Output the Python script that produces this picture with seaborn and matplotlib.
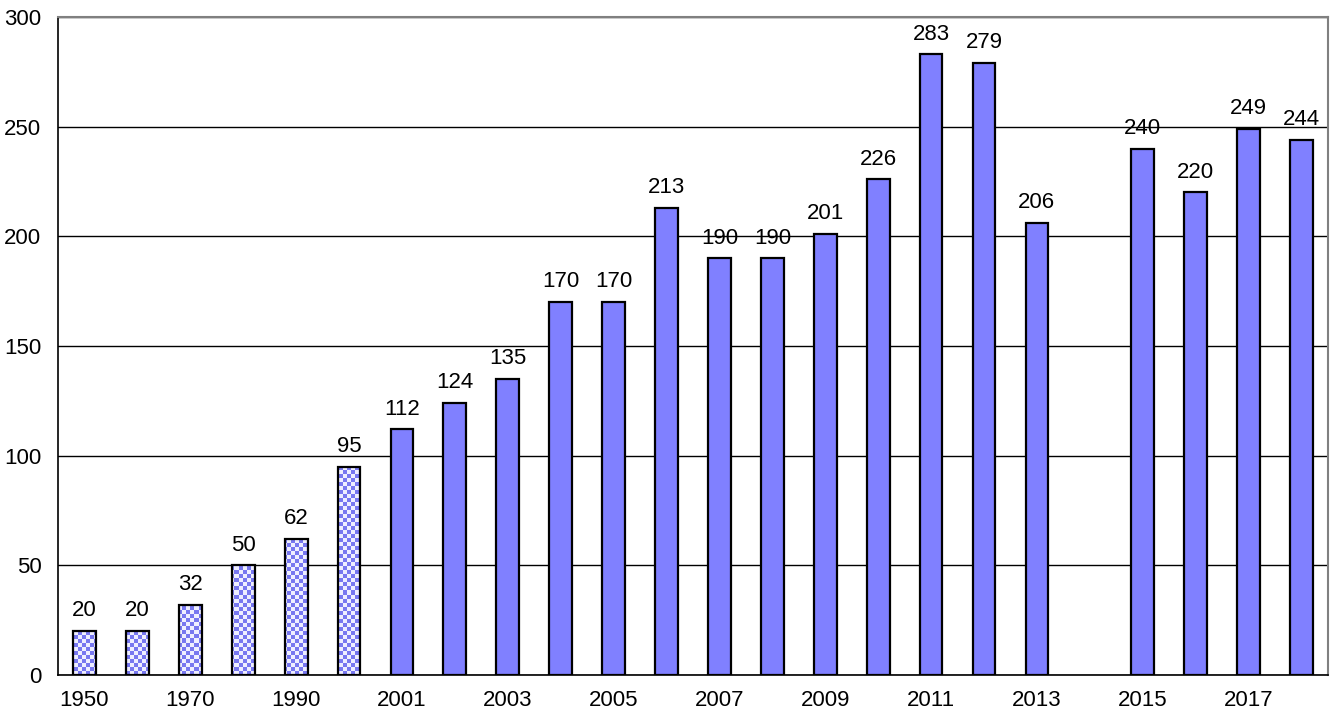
import numpy as np
import pandas as pd
import matplotlib
matplotlib.use("Agg")
import matplotlib.pyplot as plt
import seaborn as sns

# data
years = ['1950', '1960', '1970', '1980', '1990', '2000',
         '2001', '2002', '2003', '2004', '2005', '2006', '2007', '2008',
         '2009', '2010', '2011', '2012', '2013', '2014', '2015', '2016',
         '2017', '2018']
values = [20, 20, 32, 50, 62, 95,
          112, 124, 135, 170, 170, 213, 190, 190,
          201, 226, 283, 279, 206, np.nan, 240, 220,
          249, 244]
# first six bars are decade values, drawn with a checker fill
n_decades = 6
tick_labels = [y if i % 2 == 0 else '' for i, y in enumerate(years)]

df = pd.DataFrame({'year': years, 'value': values})

sns.set_style("white")
plt.rcParams['font.family'] = ['Liberation Sans', 'DejaVu Sans']
plt.rcParams['text.color'] = 'black'
plt.rcParams['xtick.color'] = 'black'
plt.rcParams['ytick.color'] = 'black'

fig = plt.figure(figsize=(13.4, 7.21), dpi=100)
ax = fig.add_axes([0.0433, 0.0638, 0.9477, 0.9126])

blue = '#8080ff'
sns.barplot(data=df, x='year', y='value', order=years, color=blue,
            width=0.43, edgecolor='black', linewidth=1.6, saturation=1,
            ax=ax, zorder=3)

ax.set_ylim(0, 300)
ax.set_xlim(-0.5, len(years) - 0.5)
ax.set_yticks(range(0, 301, 50))
ax.yaxis.grid(True, color='black', linewidth=1)
ax.set_axisbelow(True)
ax.set_xticks(range(len(years)))
ax.set_xticklabels(tick_labels)
ax.set_xlabel('')
ax.set_ylabel('')
ax.tick_params(axis='both', length=0, labelsize=16)
ax.tick_params(axis='x', pad=11)
ax.tick_params(axis='y', pad=12)

for side in ['left', 'bottom']:
    ax.spines[side].set_color('black')
    ax.spines[side].set_linewidth(1.2)
for side in ['top', 'right']:
    ax.spines[side].set_color('#808080')
    ax.spines[side].set_linewidth(1.5)

# checker fill for the decade bars
patches = ax.patches[:len(years)]
cell = 4.0  # px
w_px = ax.get_position().width * fig.get_figwidth() * fig.dpi
h_px = ax.get_position().height * fig.get_figheight() * fig.dpi
nx = int(w_px / cell)
ny = int(h_px / cell)
board = (np.indices((ny, nx)).sum(axis=0) % 2).astype(float)
cmap = matplotlib.colors.ListedColormap(['#eeeeff', '#7777f0'])
for p in patches[:n_decades]:
    p.set_facecolor('none')
    im = ax.imshow(board, cmap=cmap, extent=(-0.5, len(years) - 0.5, 0, 300),
                   aspect='auto', interpolation='nearest', origin='lower',
                   zorder=2.5)
    im.set_clip_path(p)

for container in ax.containers:
    labels = ['' if np.isnan(v) else f'{int(v)}' for v in container.datavalues]
    ax.bar_label(container, labels=labels, padding=7, fontsize=16)

ax.set_xlim(-0.5, len(years) - 0.5)
ax.set_ylim(0, 300)

fig.savefig('out.png', dpi=100)
